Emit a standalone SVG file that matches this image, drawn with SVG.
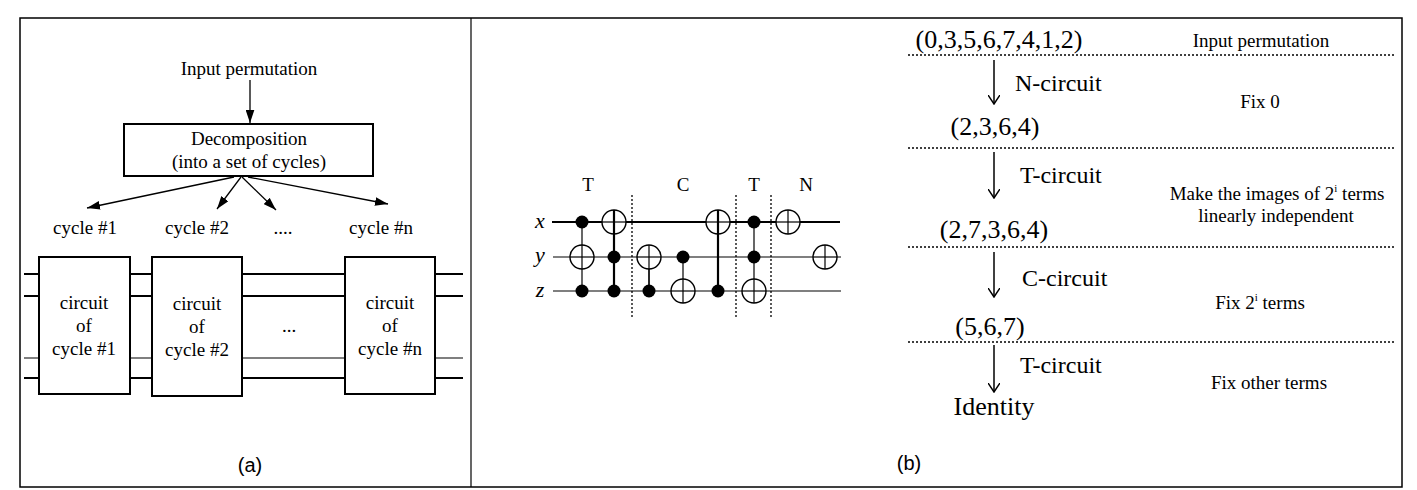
<svg xmlns="http://www.w3.org/2000/svg" width="1417" height="490" viewBox="0 0 1417 490">
<defs>
<marker id="ah" viewBox="0 0 12 8" refX="12" refY="4" markerWidth="13" markerHeight="9" markerUnits="userSpaceOnUse" orient="auto"><path d="M0,0 L12,4 L0,8 Z" fill="#000"/></marker>
<marker id="oa" viewBox="0 0 10 12" refX="9" refY="6" markerWidth="10" markerHeight="12" markerUnits="userSpaceOnUse" orient="auto"><path d="M0,0 L9,6 L0,12" fill="none" stroke="#000" stroke-width="1.5"/></marker>
</defs>
<style>
text{font-family:"Liberation Serif",serif;fill:#000}
.s16{font-size:19px}.s20{font-size:24px}.s26{font-size:26px}.s15{font-size:19px}
.sans{font-family:"Liberation Sans",sans-serif;font-size:20px}
.it{font-style:italic;font-size:22px}
.box{fill:#fff;stroke:#000;stroke-width:2}
.tk{stroke:#000;stroke-width:2.2}.tn{stroke:#000;stroke-width:1.2}
.dot{stroke:#000;stroke-width:1.3;stroke-dasharray:2 2}
.tg{fill:#fff;stroke:#000;stroke-width:1.4}
</style>
<rect x="0" y="0" width="1417" height="490" fill="#fff"/>
<rect x="20" y="18" width="1382" height="469" fill="none" stroke="#000" stroke-width="1.5"/>
<line x1="471" y1="18" x2="471" y2="487" stroke="#000" stroke-width="1.2"/>
<g id="wires-a">
<line class="tk" x1="24" y1="274" x2="463" y2="274"/>
<line class="tk" x1="24" y1="296" x2="463" y2="296"/>
<line class="tn" x1="24" y1="358" x2="463" y2="358"/>
<line class="tk" x1="24" y1="378" x2="463" y2="378"/>
</g>
<g id="connectors">
<line x1="250" y1="80" x2="250" y2="123" stroke="#000" stroke-width="1.3" marker-end="url(#ah)"/>
<line x1="234" y1="177" x2="87" y2="208" stroke="#000" stroke-width="1.3" marker-end="url(#ah)"/>
<line x1="241" y1="177" x2="217" y2="209" stroke="#000" stroke-width="1.3" marker-end="url(#ah)"/>
<line x1="242" y1="177" x2="276" y2="210" stroke="#000" stroke-width="1.3" marker-end="url(#ah)"/>
<line x1="248" y1="177" x2="388" y2="204" stroke="#000" stroke-width="1.3" marker-end="url(#ah)"/>
</g>
<text class="s16" x="249" y="75" text-anchor="middle">Input permutation</text>
<g id="decomp"><rect class="box" x="124" y="124" width="249" height="52"/>
<text class="s16" x="249" y="145" text-anchor="middle">Decomposition</text>
<text class="s16" x="249" y="168" text-anchor="middle">(into a set of cycles)</text></g>
<text class="s16" x="85" y="234" text-anchor="middle">cycle #1</text>
<text class="s16" x="197" y="234" text-anchor="middle">cycle #2</text>
<text class="s16" x="283" y="234" text-anchor="middle">....</text>
<text class="s16" x="381" y="234" text-anchor="middle">cycle #n</text>
<g id="c1"><rect class="box" x="39" y="257" width="91" height="137"/>
<text class="s16" x="84" y="309" text-anchor="middle">circuit</text><text class="s16" x="84" y="332" text-anchor="middle">of</text><text class="s16" x="84" y="355" text-anchor="middle">cycle #1</text></g>
<g id="c2"><rect class="box" x="152" y="257" width="90" height="139"/>
<text class="s16" x="197" y="310" text-anchor="middle">circuit</text><text class="s16" x="197" y="333" text-anchor="middle">of</text><text class="s16" x="197" y="356" text-anchor="middle">cycle #2</text></g>
<text class="s16" x="289" y="332" text-anchor="middle">...</text>
<g id="cn"><rect class="box" x="345" y="257" width="90" height="137"/>
<text class="s16" x="390" y="309" text-anchor="middle">circuit</text><text class="s16" x="390" y="332" text-anchor="middle">of</text><text class="s16" x="390" y="355" text-anchor="middle">cycle #n</text></g>
<text class="sans" x="250" y="472" text-anchor="middle">(a)</text>

<g id="circuit">
<text class="s16" x="588" y="191" text-anchor="middle">T</text>
<text class="s16" x="683" y="191" text-anchor="middle">C</text>
<text class="s16" x="754" y="191" text-anchor="middle">T</text>
<text class="s16" x="806" y="191" text-anchor="middle">N</text>
<text class="it" x="540" y="228" text-anchor="middle">x</text>
<text class="it" x="540" y="262" text-anchor="middle">y</text>
<text class="it" x="540" y="297" text-anchor="middle">z</text>
<line class="tk" x1="552" y1="222" x2="840" y2="222"/>
<line class="tn" x1="553" y1="257" x2="841" y2="257"/>
<line class="tn" x1="553" y1="291" x2="841" y2="291"/>
<line class="dot" x1="632" y1="195" x2="632" y2="317"/>
<line class="dot" x1="736" y1="195" x2="736" y2="317"/>
<line class="dot" x1="771" y1="195" x2="771" y2="317"/>
<line class="tn" x1="582" y1="222" x2="582" y2="291"/>
<circle cx="582" cy="222" r="6.5"/><circle class="tg" cx="582" cy="257" r="12"/><line class="tn" x1="570" y1="257" x2="594" y2="257"/><line class="tn" x1="582" y1="245" x2="582" y2="269"/><circle cx="582" cy="291" r="6.5"/>
<line class="tk" x1="614" y1="210" x2="614" y2="291"/>
<circle class="tg" cx="614" cy="222" r="12"/><line class="tn" x1="602" y1="222" x2="626" y2="222"/><line class="tk" x1="614" y1="210" x2="614" y2="234"/><circle cx="614" cy="257" r="6.5"/><circle cx="614" cy="291" r="6.5"/>
<line class="tn" x1="649" y1="245" x2="649" y2="291"/>
<circle class="tg" cx="649" cy="257" r="12"/><line class="tn" x1="637" y1="257" x2="661" y2="257"/><line class="tn" x1="649" y1="245" x2="649" y2="291"/><circle cx="649" cy="291" r="6.5"/>
<line class="tn" x1="683" y1="257" x2="683" y2="303"/>
<circle cx="683" cy="257" r="6.5"/><circle class="tg" cx="683" cy="291" r="12"/><line class="tn" x1="671" y1="291" x2="695" y2="291"/><line class="tn" x1="683" y1="279" x2="683" y2="303"/>
<line class="tk" x1="718" y1="210" x2="718" y2="291"/>
<circle class="tg" cx="718" cy="222" r="12"/><line class="tn" x1="706" y1="222" x2="730" y2="222"/><line class="tk" x1="718" y1="210" x2="718" y2="234"/><circle cx="718" cy="291" r="6.5"/>
<line class="tn" x1="754" y1="222" x2="754" y2="303"/>
<circle cx="754" cy="222" r="6.5"/><circle cx="754" cy="257" r="6.5"/><circle class="tg" cx="754" cy="291" r="12"/><line class="tn" x1="742" y1="291" x2="766" y2="291"/><line class="tn" x1="754" y1="279" x2="754" y2="303"/>
<circle class="tg" cx="788" cy="222" r="12"/><line class="tn" x1="776" y1="222" x2="800" y2="222"/><line class="tn" x1="788" y1="210" x2="788" y2="234"/>
<circle class="tg" cx="825" cy="257" r="12"/><line class="tn" x1="813" y1="257" x2="837" y2="257"/><line class="tn" x1="825" y1="245" x2="825" y2="269"/>
</g>

<g id="steps">
<line class="dot" x1="908" y1="55" x2="1396" y2="55"/>
<line class="dot" x1="908" y1="148" x2="1396" y2="148"/>
<line class="dot" x1="908" y1="247" x2="1396" y2="247"/>
<line class="dot" x1="908" y1="342" x2="1396" y2="342"/>
<line x1="994" y1="60" x2="994" y2="104" stroke="#000" stroke-width="1.5" marker-end="url(#oa)"/>
<line x1="994" y1="152" x2="994" y2="198" stroke="#000" stroke-width="1.5" marker-end="url(#oa)"/>
<line x1="994" y1="252" x2="994" y2="297" stroke="#000" stroke-width="1.5" marker-end="url(#oa)"/>
<line x1="994" y1="345" x2="994" y2="392" stroke="#000" stroke-width="1.5" marker-end="url(#oa)"/>
<text class="s26" x="999" y="48" text-anchor="middle">(0,3,5,6,7,4,1,2)</text>
<text class="s15" x="1261" y="47" text-anchor="middle">Input permutation</text>
<text class="s20" x="1015" y="91">N-circuit</text>
<text class="s15" x="1260" y="108" text-anchor="middle">Fix 0</text>
<text class="s26" x="995" y="135" text-anchor="middle">(2,3,6,4)</text>
<text class="s20" x="1020" y="183">T-circuit</text>
<text class="s15" x="1277" y="200" text-anchor="middle">Make the images of 2<tspan dy="-8" font-size="11">i</tspan><tspan dy="8"> terms</tspan></text>
<text class="s15" x="1276" y="222" text-anchor="middle">linearly independent</text>
<text class="s26" x="994" y="238" text-anchor="middle">(2,7,3,6,4)</text>
<text class="s20" x="1022" y="286">C-circuit</text>
<text class="s15" x="1260" y="309" text-anchor="middle">Fix 2<tspan dy="-8" font-size="11">i</tspan><tspan dy="8"> terms</tspan></text>
<text class="s26" x="990" y="335" text-anchor="middle">(5,6,7)</text>
<text class="s20" x="1020" y="373">T-circuit</text>
<text class="s15" x="1269" y="389" text-anchor="middle">Fix other terms</text>
<text class="s26" x="994" y="415" text-anchor="middle">Identity</text>
</g>
<text class="sans" x="909" y="470" text-anchor="middle">(b)</text>
</svg>
